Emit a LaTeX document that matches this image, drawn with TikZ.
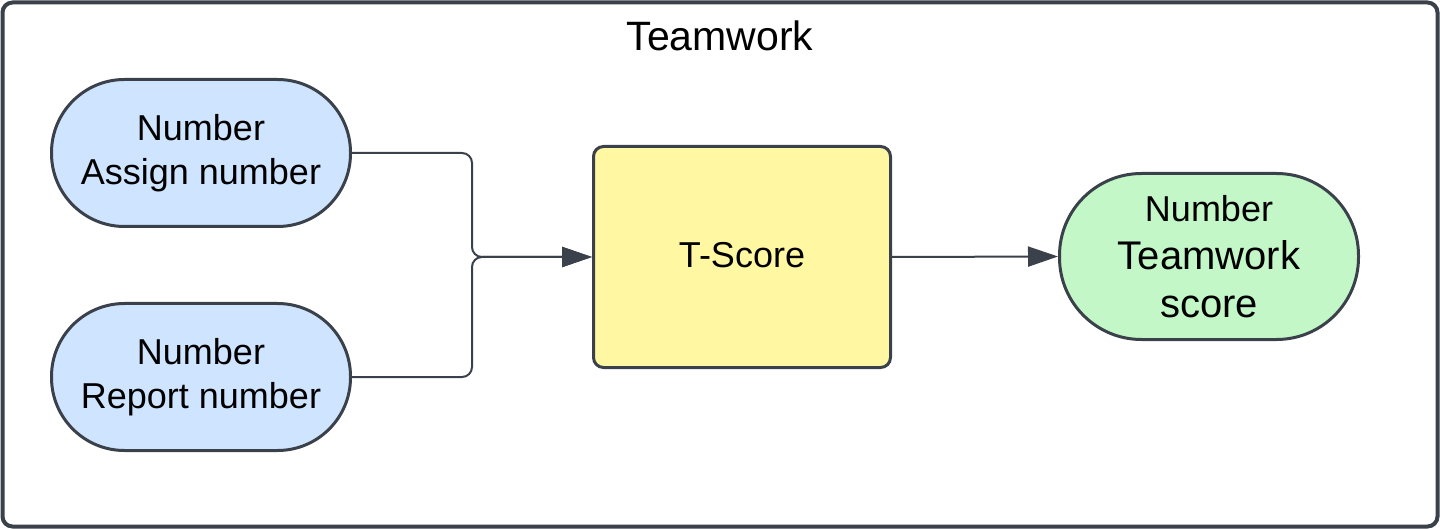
\documentclass[tikz,border=0pt]{standalone}
\usepackage{fontspec}
\setmainfont{Liberation Sans}
\usepackage{tikz}
\usetikzlibrary{arrows.meta}
\tikzset{>={Triangle[width=20pt,length=30pt]}}
\definecolor{edgegray}{HTML}{3A414A}
\definecolor{lightblue}{HTML}{CFE4FF}
\definecolor{lightgreen}{HTML}{C3F7C8}
\definecolor{lightyellow}{HTML}{FFF7A1}
\tikzset{
  field/.style={draw=edgegray, line width=3pt, fill=lightblue, align=center,
    minimum width=299pt, minimum height=147pt, rounded corners=73pt, inner sep=0pt,
    font=\fontsize{36}{44}\selectfont},
  calc/.style={draw=edgegray, line width=3pt, fill=lightyellow, align=center,
    minimum width=297pt, minimum height=221pt, rounded corners=10pt,
    font=\fontsize{36}{44}\selectfont},
  wire/.style={draw=edgegray, line width=2pt, rounded corners=10pt},
}

\begin{document}
\begin{tikzpicture}[x=1pt, y=-1pt]

  \useasboundingbox (0,0) rectangle (1440,529);
  \draw[edgegray, line width=4pt, rounded corners=10pt] (2.5,2.5) rectangle (1437.5,526.5);
  \node[font=\fontsize{41}{48}\selectfont] (title) at (720,36) {Teamwork};

  \node[field] (assign) at (201,153) {Number\\Assign number};
  \node[field] (report) at (201,377) {Number\\Report number};
  \node[calc] (tscore) at (742,257) {\raisebox{4pt}{T-Score}};
  \node[field, fill=lightgreen, minimum height=166pt, rounded corners=82pt,
        font=\fontsize{40}{48}\selectfont] (team) at (1209,256.5)
    {{\fontsize{36}{48}\selectfont Number}\\Teamwork\\score};

  \coordinate (join) at (472,257);
  \draw[wire, ->] (assign.east) -| (join) -- (tscore.west);
  \draw[wire, ->] (report.east) -| (join) -- (tscore.west);
  \draw[wire, ->] (tscore.east) -- (team.west);

\end{tikzpicture}
\end{document}
